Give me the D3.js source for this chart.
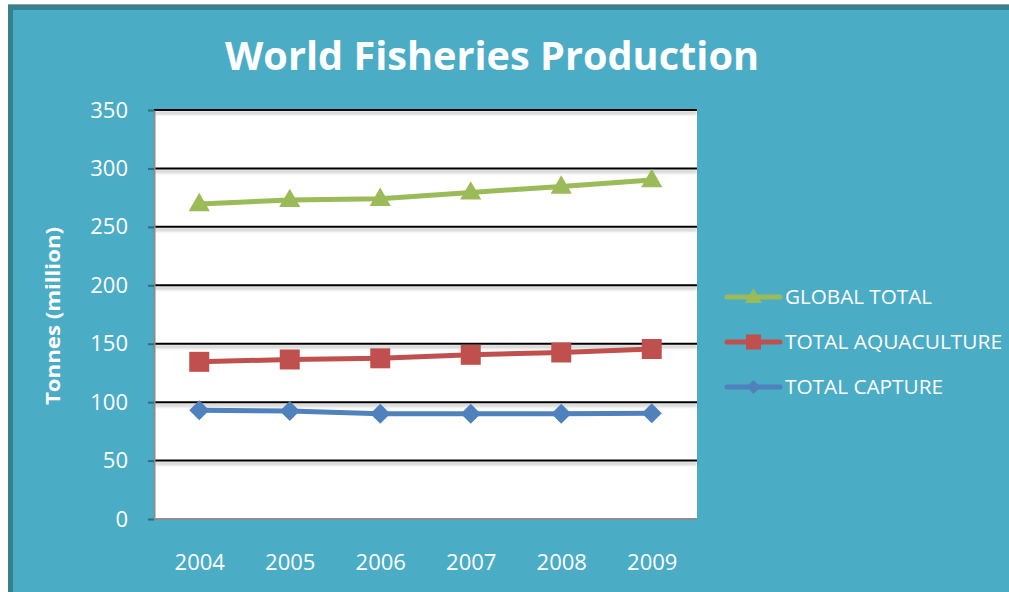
<!DOCTYPE html>
<html>
<head>
<meta charset="utf-8">
<script src="https://cdn.jsdelivr.net/npm/d3@7"></script>
<style>
  html, body { margin: 0; padding: 0; background: #ffffff; overflow: hidden; }
  svg { display: block; }
</style>
</head>
<body>
<svg id="chart" width="1009" height="592"></svg>
<script>
// Production by year, million tonnes
const years = ["2004", "2005", "2006", "2007", "2008", "2009"];
const globalTotal = [269.5, 273, 274, 279.5, 284.5, 290];
const totalAquaculture = [134.5, 136.5, 137.5, 140.5, 142.5, 145.5];
const totalCapture = [93, 92.5, 90, 90, 90, 90.5];
const yTicks = [0, 50, 100, 150, 200, 250, 300, 350];

const seriesNames = ["GLOBAL TOTAL", "TOTAL AQUACULTURE", "TOTAL CAPTURE"];
const seriesColors = ["#9BBB59", "#C0504D", "#4F81BD"];
const seriesValues = [globalTotal, totalAquaculture, totalCapture];

const svg = d3.select("#chart");
const W = 1009, H = 592;

// Chart frame
svg.append("rect").attr("x", 8).attr("y", 4).attr("width", W + 40).attr("height", H + 40)
  .attr("fill", "#8aa3ab");
svg.append("rect").attr("x", 8).attr("y", 5).attr("width", W + 40).attr("height", H + 40)
  .attr("fill", "#37818f");
svg.append("rect").attr("x", 13).attr("y", 10).attr("width", W + 40).attr("height", H + 40)
  .attr("fill", "#4BACC6");

const plot = { left: 154, right: 697, top: 110, bottom: 519 };

const defs = svg.append("defs");
const f = defs.append("filter").attr("id", "gridShadow")
  .attr("filterUnits", "userSpaceOnUse")
  .attr("x", plot.left - 10).attr("y", 0).attr("width", plot.right - plot.left + 20).attr("height", H);
f.append("feGaussianBlur").attr("in", "SourceAlpha").attr("stdDeviation", 1.6);
f.append("feOffset").attr("dy", 2.5).attr("result", "ob");
f.append("feComponentTransfer").append("feFuncA").attr("type", "linear").attr("slope", 0.3);
const fm = f.append("feMerge");
fm.append("feMergeNode");
fm.append("feMergeNode").attr("in", "SourceGraphic");

const x = d3.scalePoint().domain(years).range([plot.left, plot.right]).padding(0.5);
const y = d3.scaleLinear().domain([0, 350]).range([plot.bottom, plot.top]);

// Plot area
svg.append("rect")
  .attr("x", plot.left).attr("y", plot.top)
  .attr("width", plot.right - plot.left).attr("height", plot.bottom - plot.top)
  .attr("fill", "#ffffff");

// Horizontal gridlines
svg.append("g").attr("filter", "url(#gridShadow)")
  .selectAll("line").data(yTicks.filter(d => d > 0)).join("line")
  .attr("x1", plot.left).attr("x2", plot.right)
  .attr("y1", d => y(d)).attr("y2", d => y(d))
  .attr("stroke", "#000000").attr("stroke-width", 2);

const labelFont = "'Open Sans', 'Noto Sans', sans-serif";

// Y axis
const yAxis = svg.append("g")
  .attr("transform", `translate(${plot.left},0)`)
  .call(d3.axisLeft(y).tickValues(yTicks).tickSize(6).tickPadding(20).tickSizeOuter(0));
yAxis.select(".domain").attr("stroke", "#8c8c8c").attr("stroke-width", 2);
yAxis.selectAll(".tick line").attr("stroke", "#2f6d7d").attr("stroke-width", 2);
yAxis.selectAll(".tick text")
  .attr("fill", "#ffffff")
  .style("font-family", labelFont)
  .style("font-size", "22px");

// X axis
const xAxis = svg.append("g")
  .attr("transform", `translate(0,${plot.bottom})`)
  .call(d3.axisBottom(x).tickSize(0).tickPadding(35).tickSizeOuter(0));
xAxis.select(".domain").attr("stroke", "#8c8c8c").attr("stroke-width", 2)
  .attr("d", `M${plot.left},0H${plot.right}`);
xAxis.selectAll(".tick text")
  .attr("fill", "#ffffff")
  .style("font-family", labelFont)
  .style("font-size", "22px");

// Marker shapes: triangle, square, diamond (square turned 45°)
function marker(sel, s, size) {
  const type = [d3.symbolTriangle, d3.symbolSquare, d3.symbolSquare][s];
  sel.attr("d", d3.symbol().type(type).size(size))
    .attr("fill", seriesColors[s]);
}
const plotMarkerSize = [195, 400, 200];
const legendMarkerSize = [125, 225, 95];

// Series lines and markers
const line = d3.line().x((d, i) => x(years[i])).y(d => y(d));
seriesValues.forEach((vals, s) => {
  svg.append("path")
    .attr("d", line(vals))
    .attr("fill", "none")
    .attr("stroke", seriesColors[s])
    .attr("stroke-width", 5)
    .attr("stroke-linejoin", "round");
  svg.append("g").selectAll("path").data(vals).join("path")
    .attr("transform", (d, i) =>
      `translate(${x(years[i])},${y(d) + (s === 0 ? 1 : 0)})` + (s === 2 ? " rotate(45)" : ""))
    .call(marker, s, plotMarkerSize[s]);
});

// Title
svg.append("text")
  .attr("x", 492).attr("y", 70)
  .attr("text-anchor", "middle")
  .attr("fill", "#ffffff")
  .style("font-family", labelFont)
  .style("font-weight", "bold")
  .style("font-size", "40px")
  .attr("textLength", 534).attr("lengthAdjust", "spacingAndGlyphs")
  .text("World Fisheries Production");

// Y axis title
svg.append("text")
  .attr("transform", "translate(60,316) rotate(-90)")
  .attr("text-anchor", "middle")
  .attr("fill", "#ffffff")
  .style("font-family", labelFont)
  .style("font-weight", "bold")
  .style("font-size", "19px")
  .attr("textLength", 178).attr("lengthAdjust", "spacingAndGlyphs")
  .text("Tonnes (million)");

// Legend
const legendRows = [297, 342, 387];
const legendWidths = [147, 217, 158];
const legend = svg.append("g");
seriesNames.forEach((name, s) => {
  const g = legend.append("g").attr("transform", `translate(0,${legendRows[s]})`);
  g.append("line").attr("x1", 727).attr("x2", 780).attr("y1", 0).attr("y2", 0)
    .attr("stroke", seriesColors[s]).attr("stroke-width", 5).attr("stroke-linecap", "round");
  g.append("path")
    .attr("transform", `translate(753.5,${s === 0 ? 1 : 0})` + (s === 2 ? " rotate(45)" : ""))
    .call(marker, s, legendMarkerSize[s]);
  g.append("text")
    .attr("x", 785).attr("y", 7)
    .attr("fill", "#ffffff")
    .style("font-family", labelFont)
    .style("font-size", "20px")
    .attr("textLength", legendWidths[s]).attr("lengthAdjust", "spacingAndGlyphs")
    .text(name);
});
</script>
</body>
</html>
